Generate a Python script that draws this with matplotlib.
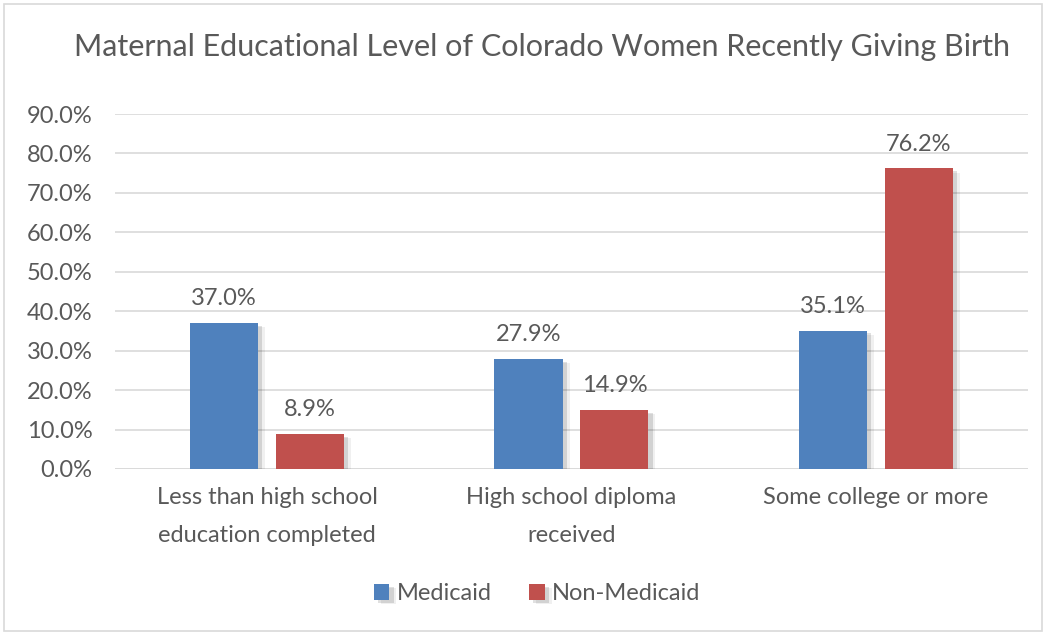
import numpy as np
import matplotlib.pyplot as plt
import matplotlib.patheffects as pe
from matplotlib.patches import Rectangle

categories = ["Less than high school\neducation completed",
              "High school diploma\nreceived",
              "Some college or more"]
medicaid = [37.0, 27.9, 35.1]
non_medicaid = [8.9, 14.9, 76.2]
series_names = ["Medicaid", "Non-Medicaid"]
yticks = [0, 10, 20, 30, 40, 50, 60, 70, 80, 90]

BLUE = "#4F81BD"
RED = "#C0504D"
TEXT = "#595959"
GRID = "#D9D9D9"
FS = 17

plt.rcParams["font.family"] = ["Lato", "DejaVu Sans"]

fig = plt.figure(figsize=(10.45, 6.33), dpi=100)
ax = fig.add_axes([0.110, 0.2591, 0.8737, 0.5608])

# chart frame
fig.patches.append(Rectangle((0.004, 0.003), 0.993, 0.991, transform=fig.transFigure,
                             fill=False, edgecolor="#D9D9D9", lw=1.2))

x = np.arange(len(categories))
w = 0.224
off = 0.141
shadow = [pe.SimplePatchShadow(offset=(3, -2), shadow_rgbFace="#000000", alpha=0.12),
          pe.SimplePatchShadow(offset=(5, -3), shadow_rgbFace="#000000", alpha=0.06),
          pe.Normal()]

b1 = ax.bar(x - off, medicaid, w, color=BLUE, label=series_names[0], zorder=3)
b2 = ax.bar(x + off, non_medicaid, w, color=RED, label=series_names[1], zorder=3)
for bars in (b1, b2):
    for r in bars:
        r.set_path_effects(shadow)
        ax.annotate(f"{r.get_height():.1f}%", (r.get_x() + r.get_width() / 2, r.get_height()),
                    xytext=(0, 10), textcoords="offset points", ha="center", va="bottom",
                    fontsize=FS, color=TEXT)

ax.set_xlim(-0.5, 2.5)
ax.set_ylim(0, 90)
ax.set_yticks(yticks)
ax.set_yticklabels([f"{v:.1f}%" for v in yticks])
ax.set_xticks(x)
ax.set_xticklabels(categories, linespacing=2.0)
ax.tick_params(axis="both", length=0, labelsize=FS, labelcolor=TEXT)
ax.tick_params(axis="x", pad=13)
ax.tick_params(axis="y", pad=16)
ax.grid(axis="y", color=GRID, lw=1.2, zorder=0)
for s in ax.spines.values():
    s.set_visible(False)
ax.axhline(0, color=GRID, lw=1.2, zorder=2)

fig.text(0.519, 0.925, "Maternal Educational Level of Colorado Women Recently Giving Birth",
         ha="center", va="center", fontsize=22, color=TEXT)

fig.legend(handles=[b1, b2], labels=series_names, loc="center", bbox_to_anchor=(0.514, 0.062),
           ncol=2, frameon=False, fontsize=FS, labelcolor=TEXT, handlelength=0.65,
           handleheight=0.65, handletextpad=0.3, columnspacing=1.6)

fig.savefig("out.png", dpi=100)
